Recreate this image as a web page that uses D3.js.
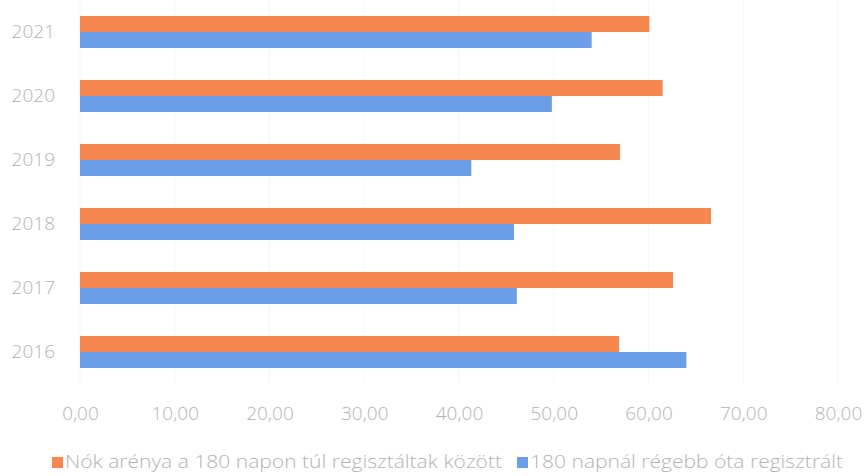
<!DOCTYPE html>
<html>
<head>
<meta charset="utf-8">
<script src="https://cdn.jsdelivr.net/npm/d3@7"></script>
<style>
  body { margin: 0; background: #fff; }
  text { font-family: "Open Sans", sans-serif; font-weight: 300; fill: #b3b3b3; }
</style>
</head>
<body>
<svg id="chart" width="866" height="476"></svg>
<script>
const years = ["2016", "2017", "2018", "2019", "2020", "2021"];
const seriesNames = ["Nók arénya a 180 napon túl regisztáltak között", "180 napnál régebb óta regisztrált"];
const womenShare = [56.9, 62.6, 66.6, 57.0, 61.5, 60.1];
const longTerm = [64.0, 46.1, 45.8, 41.3, 49.8, 54.0];
const xTicks = [0, 10, 20, 30, 40, 50, 60, 70, 80];
const colors = ["#f6874f", "#6b9de8"];

const svg = d3.select("#chart");
const x = d3.scaleLinear().domain([0, 80]).range([80, 838]);
const y = d3.scaleBand().domain(years.slice().reverse()).range([0, 384])
  .paddingInner(0.5).paddingOuter(0.25);
const ys = d3.scaleBand().domain([0, 1]).range([0, y.bandwidth()]);

// faint gridlines
svg.append("g").selectAll("line").data(xTicks).join("line")
  .attr("x1", d => x(d)).attr("x2", d => x(d))
  .attr("y1", 0).attr("y2", 384)
  .attr("stroke", "#f5f5f5").attr("stroke-width", 1);

const data = years.map((yr, i) => ({ year: yr, vals: [womenShare[i], longTerm[i]] }));

const groups = svg.append("g").selectAll("g").data(data).join("g")
  .attr("transform", d => `translate(0,${y(d.year)})`);
groups.selectAll("rect").data(d => d.vals.map((v, k) => ({ v, k }))).join("rect")
  .attr("x", x(0))
  .attr("y", d => ys(d.k))
  .attr("width", d => x(d.v) - x(0))
  .attr("height", ys.bandwidth())
  .attr("fill", d => colors[d.k]);

// y axis labels
const yAxis = d3.axisLeft(y).tickSize(0).tickPadding(0);
const yg = svg.append("g").attr("transform", "translate(55,0)").call(yAxis);
yg.select(".domain").remove();
yg.selectAll("text").style("font-size", "19px").attr("fill", null);

// x axis labels
const xAxis = d3.axisBottom(x).tickValues(xTicks).tickSize(0).tickPadding(0)
  .tickFormat(d => d3.format(".2f")(d).replace(".", ","));
const xg = svg.append("g").attr("transform", "translate(0,401)").call(xAxis);
xg.select(".domain").remove();
xg.selectAll("text").style("font-size", "19px").attr("fill", null).attr("dy", "1em");

// legend
const legendItems = [
  { name: seriesNames[0], color: colors[0], sx: 52, tx: 65, tw: 437 },
  { name: seriesNames[1], color: colors[1], sx: 517, tx: 530, tw: 313 }
];
const lg = svg.append("g");
legendItems.forEach(it => {
  lg.append("rect").attr("x", it.sx).attr("y", 457).attr("width", 11).attr("height", 11).attr("fill", it.color);
  lg.append("text").attr("x", it.tx).attr("y", 468).style("font-size", "18px")
    .attr("textLength", it.tw).attr("lengthAdjust", "spacingAndGlyphs").text(it.name);
});
</script>
</body>
</html>
